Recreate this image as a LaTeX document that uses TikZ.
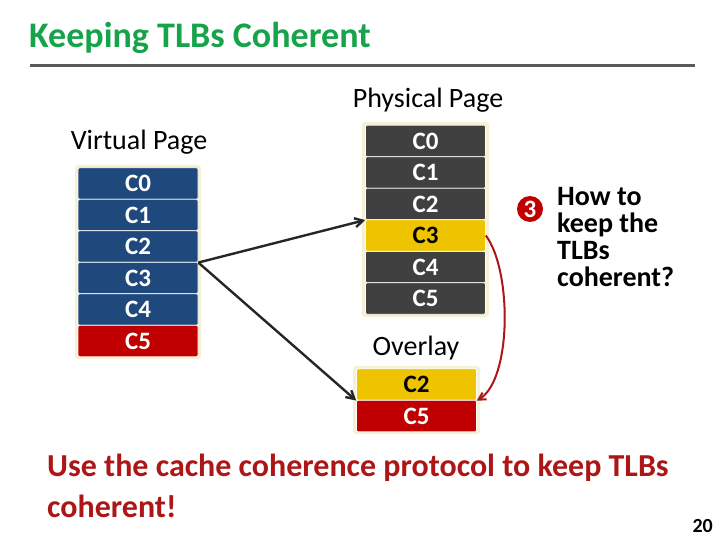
\documentclass[tikz,border=0pt]{standalone}
\usepackage{fontspec}
\setmainfont{Carlito}
\usepackage{tikz}
\usetikzlibrary{arrows.meta}
\definecolor{titlegreen}{RGB}{22,163,74}
\definecolor{rulegray}{RGB}{90,90,90}
\definecolor{pageblue}{RGB}{31,73,125}
\definecolor{pagered}{RGB}{192,0,0}
\definecolor{pagegold}{RGB}{238,196,0}
\definecolor{pagegray}{RGB}{64,64,64}
\definecolor{cream}{RGB}{246,240,212}
\definecolor{noteRed}{RGB}{172,22,22}
\tikzset{
 cell/.style={minimum width=120pt,minimum height=31.5pt,inner sep=0pt,
  draw=white,line width=.6pt,rounded corners=1.5pt,text=white,
  font=\fontsize{25}{27}\selectfont\bfseries},
 goldcell/.style={cell,fill=pagegold,text=black},
 label/.style={font=\fontsize{28}{30}\selectfont},
 map/.style={-{Straight Barb[length=8pt,width=9pt]},line width=2.4pt,
  draw=black!85}
}

\begin{document}
\begin{tikzpicture}[x=1pt,y=-1pt]
 \useasboundingbox (0,0) rectangle (720,540);

 % heading and rule
 \node[anchor=base west,inner sep=0pt,text=titlegreen,
  font=\fontsize{36}{40}\selectfont\bfseries] (title) at (29,48)
  {Keeping TLBs Coherent};
 \draw[rulegray,line width=3pt] (30,66)--(695,66);

 % virtual page
 \node[label,anchor=base] (vlabel) at (139,150) {Virtual Page};
 \fill[cream,rounded corners=3pt] (75,165) rectangle (201,359);
 \foreach \i/\c in {0/pageblue,1/pageblue,2/pageblue,3/pageblue,4/pageblue,5/pagered}
  \node[cell,fill=\c] (v\i) at (138,183.5+31.5*\i) {C\i};

 % physical page
 \node[label,anchor=base] (plabel) at (428,108) {Physical Page};
 \fill[cream,rounded corners=3pt] (362,122) rectangle (489,317);
 \foreach \i in {0,1,2,4,5}
  \node[cell,fill=pagegray] (p\i) at (425.5,141+31.5*\i) {C\i};
 \node[goldcell] (p3) at (425.5,235.5) {C3};

 % overlay
 \node[label,anchor=base] (olabel) at (416,355) {Overlay};
 \fill[cream,rounded corners=3pt] (353,366) rectangle (480,434);
 \node[goldcell] (o0) at (416.5,384.5) {C2};
 \node[cell,fill=pagered] (o1) at (416.5,416) {C5};

 % mappings
 \draw[map] (v2.south east)--(p2.south west);
 \draw[map] (v2.south east)--(o0.south west);
 \draw[-{Straight Barb[length=7pt,width=8pt]},line width=2pt,noteRed]
  (p3.east) .. controls (512,270) and (512,380) .. (o0.south east);

 % question
 \node[circle,fill=pagered,text=white,inner sep=0pt,minimum size=26pt,
  font=\fontsize{25}{27}\selectfont\bfseries] (three) at (530,209) {3};
 \node[anchor=north west,inner sep=0pt,align=left,
  font=\fontsize{28}{27}\selectfont\bfseries] (ask) at (557,187)
  {How to\\keep the\\TLBs\\coherent?};

 % answer
 \node[anchor=north west,inner sep=0pt,align=left,text=noteRed,
  font=\fontsize{32}{40.5}\selectfont\bfseries] (answer) at (47,454)
  {Use the cache coherence protocol to keep TLBs\\coherent!};
 \node[anchor=base east,inner sep=0pt,
  font=\fontsize{20}{22}\selectfont\bfseries] (pagenum) at (713,532) {20};
\end{tikzpicture}
\end{document}
